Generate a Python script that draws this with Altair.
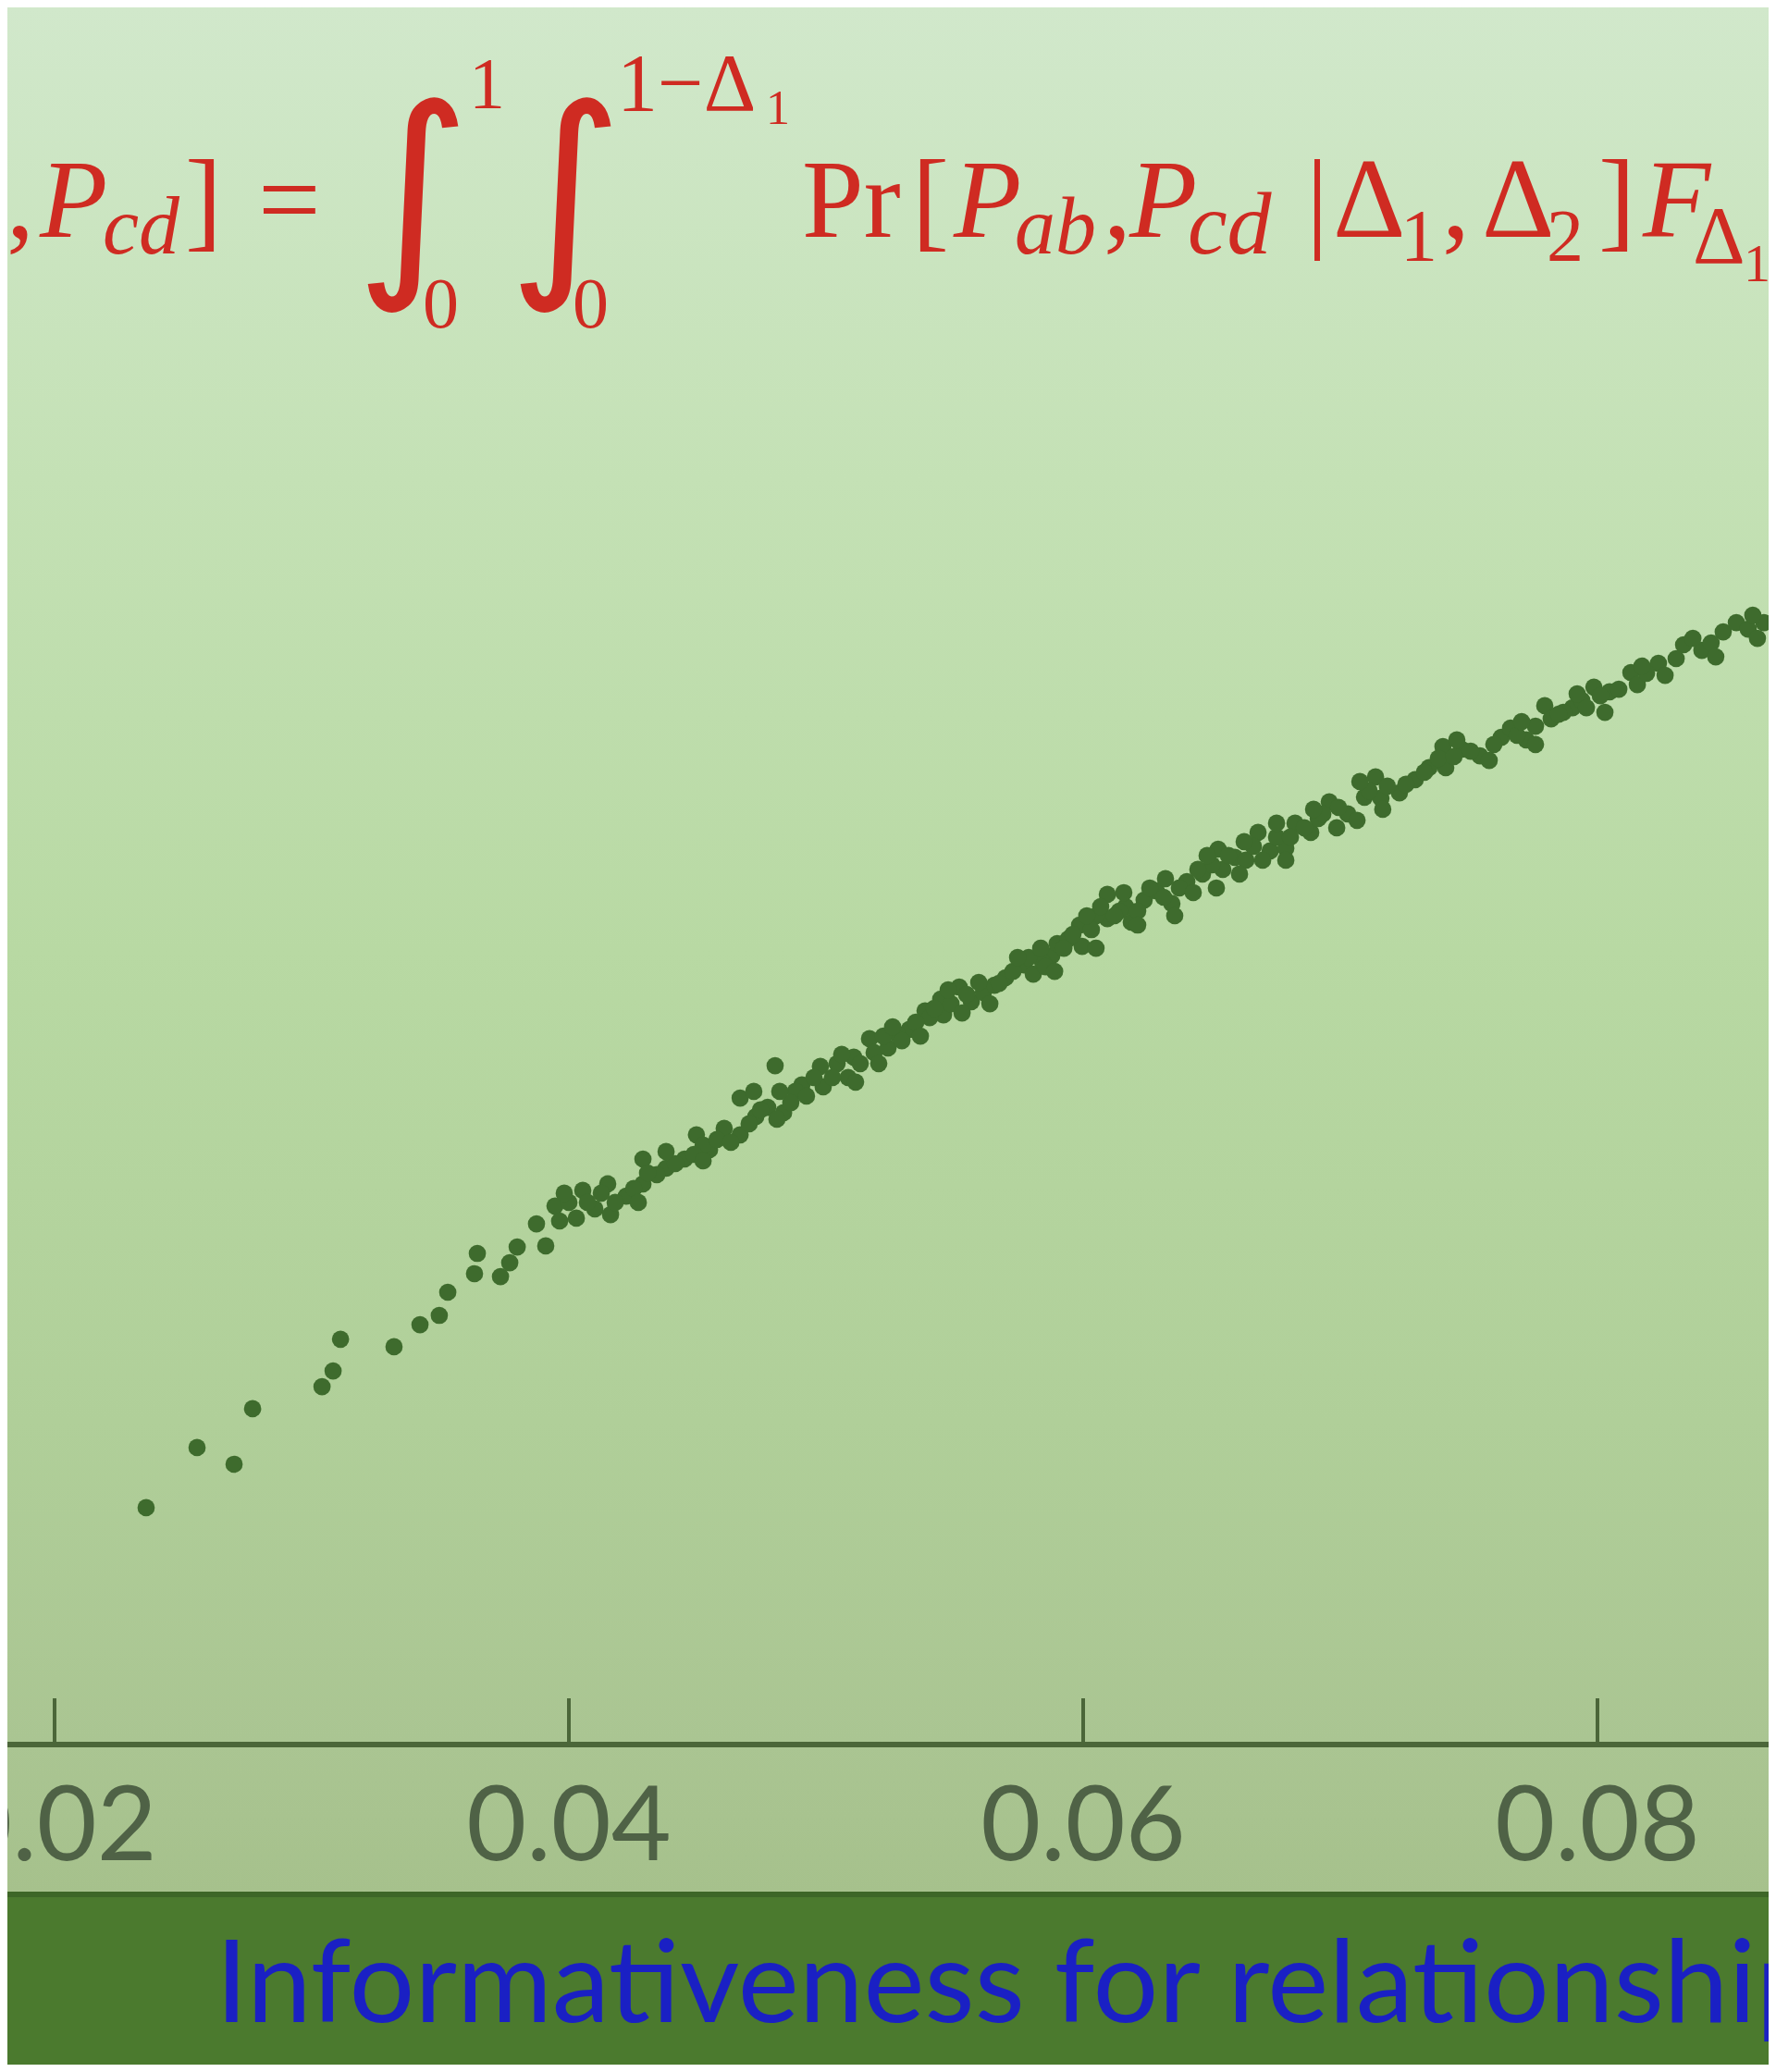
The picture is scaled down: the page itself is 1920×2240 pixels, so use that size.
import altair as alt
import pandas as pd

# ---- data ----
x_vals = [0.02356, 0.02554, 0.02698, 0.02770, 0.03040, 0.03083, 0.03112, 0.03320, 0.03421, 0.03496,
          0.03529, 0.03633, 0.03644, 0.03734, 0.03770, 0.03799, 0.03874, 0.03910, 0.03946, 0.04029,
          0.04054, 0.04101, 0.04151, 0.04162, 0.04223, 0.04288, 0.04288, 0.04378, 0.04450, 0.04496,
          0.04547, 0.04604, 0.04666, 0.04666, 0.04727, 0.04773, 0.04835, 0.04802, 0.04906, 0.04978,
          0.04989, 0.05086, 0.05108, 0.05169, 0.05187, 0.05241, 0.05324, 0.05385, 0.05446, 0.05457,
          0.05518, 0.05565, 0.05612, 0.05698, 0.05770, 0.05806, 0.05878, 0.05899, 0.05986, 0.05996,
          0.06094, 0.06094, 0.06165, 0.06187, 0.06237, 0.06284, 0.06345, 0.06403, 0.06464, 0.06525,
          0.06543, 0.06590, 0.06633, 0.06680, 0.06727, 0.06788, 0.06824, 0.06885, 0.06957, 0.07029,
          0.07065, 0.07137, 0.07158, 0.07230, 0.07291, 0.07399, 0.07410, 0.07471, 0.07543, 0.07626,
          0.07662, 0.07723, 0.07795, 0.07820, 0.07903, 0.07939, 0.07986, 0.08047, 0.08130, 0.08155,
          0.08237, 0.08263, 0.08335, 0.08406, 0.08489, 0.08540, 0.08647,
          0.05043, 0.05277, 0.05403, 0.05655, 0.05842, 0.05942, 0.06050, 0.06140, 0.06374, 0.06500,
          0.06752, 0.06914, 0.07094, 0.07345, 0.07597, 0.07867, 0.04000, 0.04342, 0.04522, 0.04881,
          0.04924, 0.05025, 0.05133, 0.05223, 0.05295, 0.05349, 0.05421, 0.05486, 0.05547, 0.05594,
          0.05673, 0.05727, 0.05788, 0.05853, 0.05925, 0.05960, 0.06032, 0.06068, 0.06122, 0.06212,
          0.06259, 0.06313, 0.06428, 0.06446, 0.06565, 0.06608, 0.06662, 0.06698, 0.06806, 0.06860,
          0.06932, 0.06993, 0.07112, 0.07183, 0.07255, 0.07381, 0.07442, 0.07507, 0.07687, 0.07759,
          0.07849, 0.07957, 0.08011, 0.08083, 0.08191, 0.08306, 0.08442, 0.08586,
          0.03964, 0.04072, 0.04180, 0.04252, 0.04306, 0.04414, 0.04486, 0.04576, 0.04701, 0.04745,
          0.04863, 0.04820,
          0.04953, 0.05061, 0.05115, 0.05205, 0.05259, 0.05367, 0.05475, 0.05529, 0.05637, 0.05745,
          0.05835, 0.05889, 0.06014, 0.06050, 0.06158, 0.06212, 0.06320, 0.06356, 0.06482, 0.06518,
          0.06626, 0.06752, 0.06788, 0.06896, 0.06986, 0.07076, 0.07165, 0.07327, 0.07453, 0.07579,
          0.07705, 0.07759, 0.07921, 0.08029, 0.08173, 0.08371, 0.08460, 0.08604, 0.08622,
          0.03982, 0.04126, 0.04270, 0.04378, 0.04522, 0.04630, 0.04719, 0.04809]
y_vals = [0.00921, 0.01155, 0.01090, 0.01306, 0.01392, 0.01453, 0.01576, 0.01547, 0.01633, 0.01669,
          0.01759, 0.01831, 0.01910, 0.01820, 0.01874, 0.01935, 0.02025, 0.01939, 0.02094, 0.02047,
          0.02155, 0.02083, 0.02180, 0.02061, 0.02133, 0.02180, 0.02277, 0.02241, 0.02277, 0.02371,
          0.02313, 0.02396, 0.02371, 0.02514, 0.02442, 0.02478, 0.02457, 0.02640, 0.02565, 0.02637,
          0.02558, 0.02594, 0.02673, 0.02745, 0.02691, 0.02709, 0.02781, 0.02853, 0.02899, 0.02838,
          0.02946, 0.02889, 0.02925, 0.02982, 0.03032, 0.02996, 0.03068, 0.03115, 0.03187, 0.03104,
          0.03306, 0.03212, 0.03259, 0.03198, 0.03284, 0.03320, 0.03270, 0.03356, 0.03385, 0.03482,
          0.03403, 0.03450, 0.03439, 0.03547, 0.03475, 0.03486, 0.03583, 0.03547, 0.03666, 0.03619,
          0.03594, 0.03763, 0.03680, 0.03701, 0.03752, 0.03881, 0.03799, 0.03871, 0.03845, 0.03917,
          0.03953, 0.03907, 0.04040, 0.03989, 0.04032, 0.04061, 0.04112, 0.04094, 0.04169, 0.04122,
          0.04205, 0.04158, 0.04277, 0.04255, 0.04327, 0.04363, 0.04363,
          0.02648, 0.02763, 0.02827, 0.02953, 0.03043, 0.03133, 0.03223, 0.03241, 0.03331, 0.03421,
          0.03529, 0.03601, 0.03684, 0.03799, 0.03889, 0.04014, 0.02108, 0.02216, 0.02331, 0.02540,
          0.02522, 0.02594, 0.02648, 0.02755, 0.02737, 0.02809, 0.02863, 0.02881, 0.02917, 0.02964,
          0.02960, 0.03007, 0.03061, 0.03025, 0.03097, 0.03151, 0.03169, 0.03259, 0.03223, 0.03241,
          0.03331, 0.03295, 0.03313, 0.03403, 0.03457, 0.03385, 0.03493, 0.03439, 0.03529, 0.03565,
          0.03619, 0.03644, 0.03709, 0.03727, 0.03734, 0.03835, 0.03842, 0.03863, 0.03925, 0.03960,
          0.04007, 0.04032, 0.04079, 0.04104, 0.04166, 0.04223, 0.04284, 0.04338,
          0.02036, 0.02108, 0.02108, 0.02162, 0.02223, 0.02259, 0.02295, 0.02353, 0.02414, 0.02468,
          0.02496, 0.02540,
          0.02594, 0.02684, 0.02576, 0.02648, 0.02791, 0.02755, 0.02935, 0.02845, 0.02881, 0.03061,
          0.03097, 0.03007, 0.03223, 0.03097, 0.03313, 0.03187, 0.03367, 0.03223, 0.03457, 0.03331,
          0.03511, 0.03583, 0.03439, 0.03637, 0.03565, 0.03745, 0.03637, 0.03781, 0.03907, 0.03827,
          0.03978, 0.03889, 0.04086, 0.04014, 0.04194, 0.04302, 0.04230, 0.04392, 0.04302,
          0.02144, 0.02144, 0.02108, 0.02306, 0.02270, 0.02342, 0.02540, 0.02432]
tick_values = [0.02, 0.04, 0.06, 0.08]
tick_labels = ["0.02", "0.04", "0.06", "0.08"]
x_title = "Informativeness for relationship"

W, H = 1904, 1878          # plot area (axis line at bottom)
TOTAL_H = 2224
BAND_TOP = 2038

xs = alt.Scale(domain=[0.018165, 0.086655], nice=False, zero=False)
ys = alt.Scale(domain=[0.0, 0.067554], nice=False, zero=False)

pts = pd.DataFrame({"x": x_vals, "y": y_vals})
ticks = pd.DataFrame({"tick": tick_values, "label": tick_labels})
one = pd.DataFrame({"a": [0]})

bg = alt.Chart(one).mark_rect(
    color=alt.Gradient(
        gradient="linear", x1=0, x2=0, y1=0, y2=1,
        stops=[alt.GradientStop(color="#d1e8cb", offset=0.0),
               alt.GradientStop(color="#c4e1b5", offset=0.25),
               alt.GradientStop(color="#b8d9a3", offset=0.5),
               alt.GradientStop(color="#b0cf99", offset=0.75),
               alt.GradientStop(color="#aac592", offset=0.92),
               alt.GradientStop(color="#a6c18c", offset=1.0)])
).encode(x=alt.value(0), x2=alt.value(W), y=alt.value(0), y2=alt.value(BAND_TOP))

band = alt.Chart(one).mark_rect(color="#4b7a2e").encode(
    x=alt.value(0), x2=alt.value(W), y=alt.value(BAND_TOP), y2=alt.value(TOTAL_H))
band_line = alt.Chart(one).mark_rule(color="#3d6627", strokeWidth=6).encode(
    x=alt.value(0), x2=alt.value(W), y=alt.value(BAND_TOP + 2))

axis_line = alt.Chart(one).mark_rule(color="#4b6639", strokeWidth=6).encode(
    x=alt.value(0), x2=alt.value(W), y=alt.value(H))
tick_rules = alt.Chart(ticks).mark_rule(color="#4b6639", strokeWidth=4).encode(
    x=alt.X("tick:Q", scale=xs, axis=None), y=alt.value(H - 50), y2=alt.value(H))
tick_text = alt.Chart(ticks).mark_text(
    font="Lato", fontSize=112, color="#4f6246", align="center",
    baseline="alphabetic").encode(
    x=alt.X("tick:Q", scale=xs, axis=None), y=alt.value(2003), text="label:N")

points = alt.Chart(pts).mark_circle(size=350, color="#3e6b2d", opacity=1).encode(
    x=alt.X("x:Q", scale=xs, axis=None), y=alt.Y("y:Q", scale=ys, axis=None))

title_text = alt.Chart(one).mark_text(
    text=x_title, font="Lato", fontSize=125, color="#1a20c4", align="left",
    baseline="alphabetic").encode(x=alt.value(225), y=alt.value(2178))

RED = "#cf2b22"
SER = "Liberation Serif"
INT = "DejaVu Sans"
pieces = [
    # text, x, y, size, italic, baseline, font
    (",", -1, 248, 120, False, "alphabetic", SER),
    ("P", 35, 248, 120, True, "alphabetic", SER),
    ("cd", 103, 266, 88, True, "alphabetic", SER),
    ("]", 192, 248, 120, False, "alphabetic", SER),
    ("=", 271, 248, 120, False, "alphabetic", SER),
    ("\u222b", 376, 207, 240, False, "middle", INT),
    ("1", 499, 85, 78, False, "middle", SER),
    ("0", 449, 323, 78, False, "middle", SER),
    ("\u222b", 541, 207, 240, False, "middle", INT),
    ("0", 611, 323, 78, False, "middle", SER),
    ("1\u2212\u0394", 659, 85, 88, False, "middle", SER),
    ("1", 820, 110, 52, False, "middle", SER),
    ("Pr", 859, 248, 120, False, "alphabetic", SER),
    ("[", 978, 248, 120, False, "alphabetic", SER),
    ("P", 1023, 248, 120, True, "alphabetic", SER),
    ("ab", 1089, 266, 88, True, "alphabetic", SER),
    (",", 1185, 248, 120, False, "alphabetic", SER),
    ("P", 1213, 248, 120, True, "alphabetic", SER),
    ("cd", 1276, 266, 96, True, "alphabetic", SER),
    ("|", 1404, 248, 120, False, "alphabetic", SER),
    ("\u0394", 1433, 248, 122, False, "alphabetic", SER),
    ("1", 1506, 274, 80, False, "alphabetic", SER),
    (",", 1551, 248, 120, False, "alphabetic", SER),
    ("\u0394", 1594, 248, 122, False, "alphabetic", SER),
    ("2", 1664, 274, 80, False, "alphabetic", SER),
    ("]", 1720, 248, 120, False, "alphabetic", SER),
    ("F", 1768, 248, 120, True, "alphabetic", SER),
    ("\u0394", 1822, 276, 88, False, "alphabetic", SER),
    ("1", 1877, 296, 58, False, "alphabetic", SER),
]
formula_layers = []
for t, px, py, fs, it, bl, fnt in pieces:
    formula_layers.append(
        alt.Chart(one).mark_text(
            text=t, font=fnt, fontSize=fs, fontStyle="italic" if it else "normal",
            color=RED, align="left", baseline=bl
        ).encode(x=alt.value(px), y=alt.value(py))
    )

chart = alt.layer(
    bg, band, band_line, axis_line, tick_rules, tick_text, points, title_text, *formula_layers
).properties(
    width=W, height=H,
    autosize=alt.AutoSizeParams(type="none"),
    padding={"left": 0, "top": 0, "right": 0, "bottom": TOTAL_H - H},
    background="#a6c18c",
).configure_view(strokeWidth=0)

chart.save("out.html", embed_options={"renderer": "svg", "actions": False})
